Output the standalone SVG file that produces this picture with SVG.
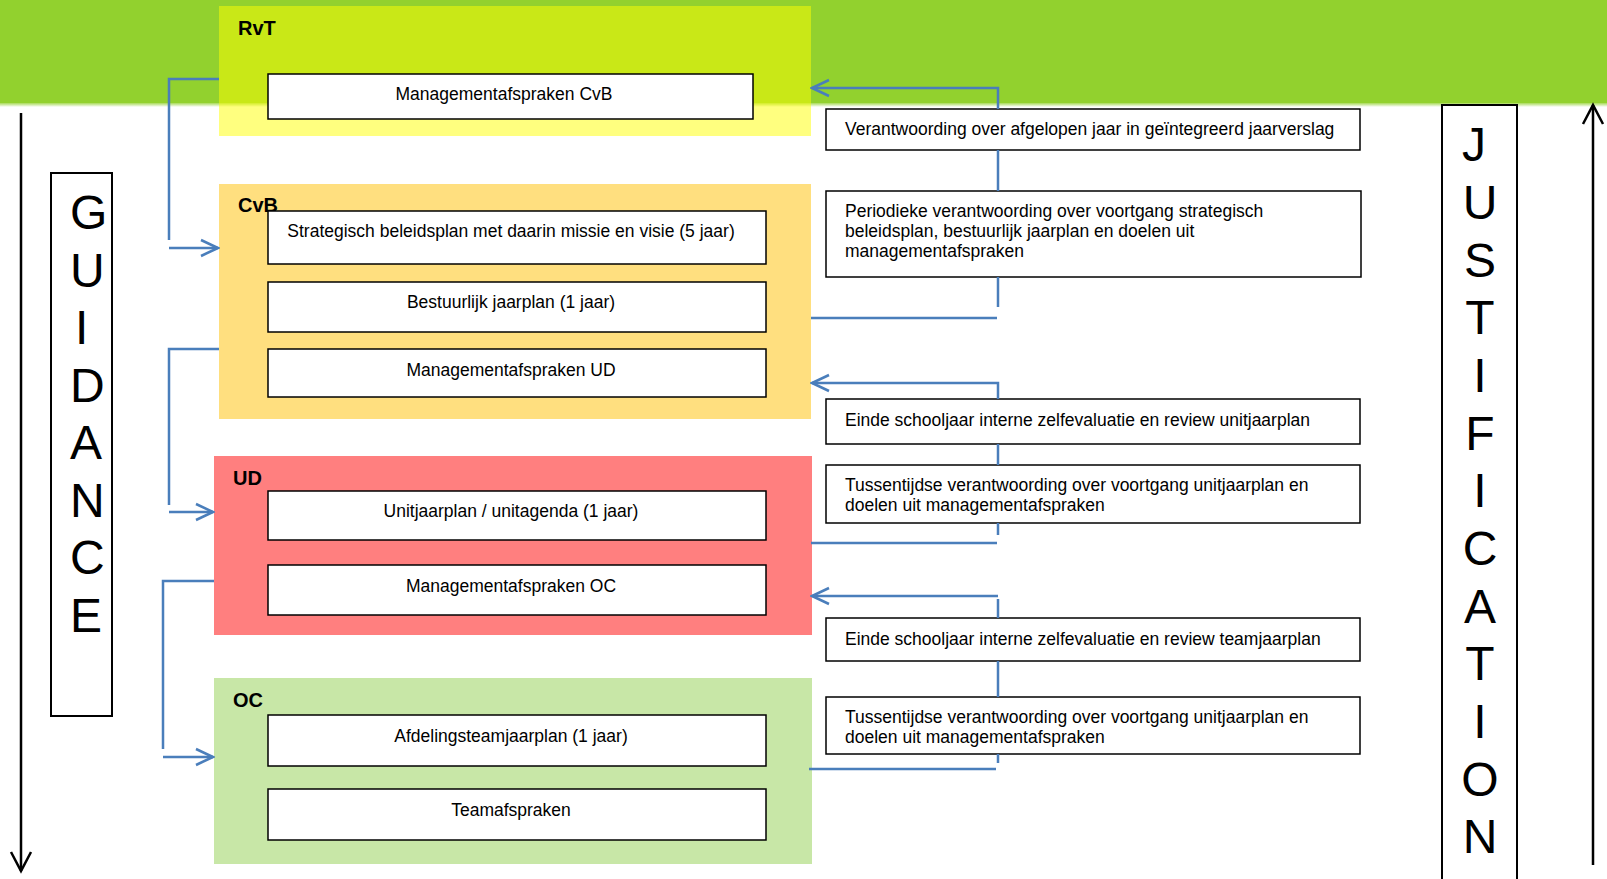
<svg xmlns="http://www.w3.org/2000/svg" width="1607" height="879" viewBox="0 0 1607 879">
<defs>
<linearGradient id="fade" x1="0" y1="0" x2="0" y2="1">
<stop offset="0" stop-color="#92d12e" stop-opacity="1"/>
<stop offset="1" stop-color="#92d12e" stop-opacity="0"/>
</linearGradient>
<marker id="blueArrow" viewBox="0 0 20 20" refX="18" refY="10" markerWidth="20" markerHeight="20" markerUnits="userSpaceOnUse" orient="auto">
<path d="M1,2 L18,10 L1,18" fill="none" stroke="#4a7ebb" stroke-width="2.5"/>
</marker>
<marker id="blackArrow" viewBox="0 0 24 24" refX="21" refY="12" markerWidth="24" markerHeight="24" markerUnits="userSpaceOnUse" orient="auto">
<path d="M2,2 L21,12 L2,22" fill="none" stroke="#000" stroke-width="2.5"/>
</marker>
</defs>
<style>
.box{fill:#fff;stroke:#000;stroke-width:1.5}
.t{font-family:"Liberation Sans",Arial,sans-serif;font-size:17.5px;fill:#000}
.c{text-anchor:middle}
.lbl{font-family:"Liberation Sans",Arial,sans-serif;font-size:20px;font-weight:bold;fill:#000}
.big{font-family:"Liberation Sans",Arial,sans-serif;font-size:48px;fill:#000}
.conn{fill:none;stroke:#4a7ebb;stroke-width:2.5}
.axis{fill:none;stroke:#000;stroke-width:2.5}
</style>
<rect x="0" y="0" width="1607" height="879" fill="#fff"/>
<rect x="0" y="0" width="1607" height="103" fill="#92d12e"/>
<rect x="0" y="102" width="1607" height="5" fill="url(#fade)"/>

<g id="RvT">
<rect x="219" y="6" width="592" height="130" fill="#ffff00" fill-opacity="0.5"/>
<text class="lbl" x="238" y="35">RvT</text>
<rect class="box" x="268" y="74" width="485" height="45"/>
<text class="t c" x="504" y="100">Managementafspraken CvB</text>
</g>

<g id="CvB">
<rect x="219" y="184" width="592" height="235" fill="#ffc000" fill-opacity="0.5"/>
<text class="lbl" x="238" y="212">CvB</text>
<rect class="box" x="268" y="211" width="498" height="53"/>
<text class="t c" x="511" y="237">Strategisch beleidsplan met daarin missie en visie (5 jaar)</text>
<rect class="box" x="268" y="282" width="498" height="50"/>
<text class="t c" x="511" y="308">Bestuurlijk jaarplan (1 jaar)</text>
<rect class="box" x="268" y="349" width="498" height="48"/>
<text class="t c" x="511" y="376">Managementafspraken UD</text>
</g>

<g id="UD">
<rect x="214" y="456" width="598" height="179" fill="#ff0000" fill-opacity="0.5"/>
<text class="lbl" x="233" y="485">UD</text>
<rect class="box" x="268" y="491" width="498" height="49"/>
<text class="t c" x="511" y="517">Unitjaarplan / unitagenda (1 jaar)</text>
<rect class="box" x="268" y="565" width="498" height="50"/>
<text class="t c" x="511" y="592">Managementafspraken OC</text>
</g>

<g id="OC">
<rect x="214" y="678" width="598" height="186" fill="#92d050" fill-opacity="0.5"/>
<text class="lbl" x="233" y="707">OC</text>
<rect class="box" x="268" y="715" width="498" height="51"/>
<text class="t c" x="511" y="742">Afdelingsteamjaarplan (1 jaar)</text>
<rect class="box" x="268" y="789" width="498" height="51"/>
<text class="t c" x="511" y="816">Teamafspraken</text>
</g>

<g id="right-boxes">
<g id="r1">
<rect class="box" x="826" y="109" width="534" height="41"/>
<text class="t" x="845" y="135">Verantwoording over afgelopen jaar in geïntegreerd jaarverslag</text>
</g>
<g id="r2">
<rect class="box" x="826" y="191" width="535" height="86"/>
<text class="t" x="845" y="217">Periodieke verantwoording over voortgang strategisch</text>
<text class="t" x="845" y="237">beleidsplan, bestuurlijk jaarplan en doelen uit</text>
<text class="t" x="845" y="257">managementafspraken</text>
</g>
<g id="r3">
<rect class="box" x="826" y="399" width="534" height="45"/>
<text class="t" x="845" y="426">Einde schooljaar interne zelfevaluatie en review unitjaarplan</text>
</g>
<g id="r4">
<rect class="box" x="826" y="465" width="534" height="58"/>
<text class="t" x="845" y="491">Tussentijdse verantwoording over voortgang unitjaarplan en</text>
<text class="t" x="845" y="511">doelen uit managementafspraken</text>
</g>
<g id="r5">
<rect class="box" x="826" y="618" width="534" height="43"/>
<text class="t" x="845" y="645">Einde schooljaar interne zelfevaluatie en review teamjaarplan</text>
</g>
<g id="r6">
<rect class="box" x="826" y="697" width="534" height="57"/>
<text class="t" x="845" y="723">Tussentijdse verantwoording over voortgang unitjaarplan en</text>
<text class="t" x="845" y="743">doelen uit managementafspraken</text>
</g>
</g>

<g id="guidance">
<rect x="51" y="173" width="61" height="543" fill="#fff" stroke="#000" stroke-width="2"/>
<text class="big" x="70" y="229">G</text>
<text class="big" x="70" y="287">U</text>
<text class="big" x="75" y="344">I</text>
<text class="big" x="70" y="402">D</text>
<text class="big" x="70" y="459">A</text>
<text class="big" x="70" y="517">N</text>
<text class="big" x="70" y="574">C</text>
<text class="big" x="70" y="632">E</text>
</g>

<g id="justification">
<rect x="1442" y="105" width="75" height="790" fill="#fff" stroke="#000" stroke-width="2"/>
<text class="big c" x="1474" y="161">J</text>
<text class="big c" x="1480" y="219">U</text>
<text class="big c" x="1480" y="277">S</text>
<text class="big c" x="1480" y="334">T</text>
<text class="big c" x="1480" y="392">I</text>
<text class="big c" x="1480" y="450">F</text>
<text class="big c" x="1480" y="507">I</text>
<text class="big c" x="1480" y="565">C</text>
<text class="big c" x="1480" y="623">A</text>
<text class="big c" x="1480" y="680">T</text>
<text class="big c" x="1480" y="738">I</text>
<text class="big c" x="1480" y="796">O</text>
<text class="big c" x="1480" y="853">N</text>
</g>

<g id="connectors">
<path class="axis" d="M21,113 L21,871" marker-end="url(#blackArrow)"/>
<path class="axis" d="M1593,865 L1593,105" marker-end="url(#blackArrow)"/>

<path class="conn" d="M219,79 L169,79 L169,240"/>
<path class="conn" d="M169,248 L218,248" marker-end="url(#blueArrow)"/>
<path class="conn" d="M219,349 L169,349 L169,505"/>
<path class="conn" d="M169,512 L213,512" marker-end="url(#blueArrow)"/>
<path class="conn" d="M214,581 L163,581 L163,749"/>
<path class="conn" d="M163,757 L213,757" marker-end="url(#blueArrow)"/>

<path class="conn" d="M998,109 L998,88 L812,88" marker-end="url(#blueArrow)"/>
<path class="conn" d="M998,150 L998,191"/>
<path class="conn" d="M998,277 L998,307"/>
<path class="conn" d="M811,318 L997,318"/>

<path class="conn" d="M998,399 L998,383 L812,383" marker-end="url(#blueArrow)"/>
<path class="conn" d="M998,444 L998,465"/>
<path class="conn" d="M998,523 L998,535"/>
<path class="conn" d="M811,543 L997,543"/>

<path class="conn" d="M998,596 L812,596" marker-end="url(#blueArrow)"/>
<path class="conn" d="M998,599 L998,618"/>
<path class="conn" d="M998,661 L998,697"/>
<path class="conn" d="M998,754 L998,763"/>
<path class="conn" d="M809,769 L996,769"/>
</g>
</svg>
